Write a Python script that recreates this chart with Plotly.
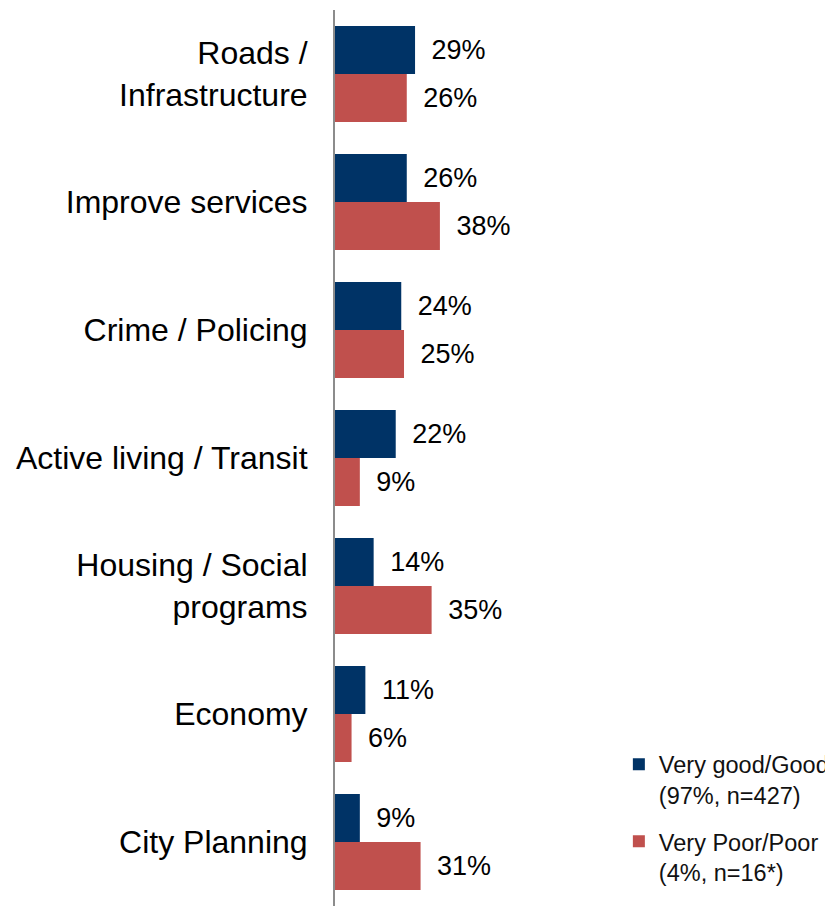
import plotly.graph_objects as go

categories = ["Roads /<br>Infrastructure", "Improve services", "Crime / Policing",
              "Active living / Transit", "Housing / Social<br>programs", "Economy", "City Planning"]
good_values = [29, 26, 24, 22, 14, 11, 9]
poor_values = [26, 38, 25, 9, 35, 6, 31]
good_name = "Very good/Good<br>(97%, n=427)"
poor_name = "Very Poor/Poor<br>(4%, n=16*)"

FONT = "Liberation Sans, Arial, sans-serif"

fig = go.Figure()
fig.add_trace(go.Bar(
    y=categories, x=good_values, orientation="h", name=good_name,
    marker=dict(color="#003366", line=dict(width=0)),
    text=[f"\u2002{v}%" for v in good_values], textposition="outside",
    constraintext="none", cliponaxis=False,
    textfont=dict(size=27, color="black", family=FONT),
    legendgroup="g1",
))
fig.add_trace(go.Bar(
    y=categories, x=poor_values, orientation="h", name=poor_name,
    marker=dict(color="#C0504D", line=dict(width=0)),
    text=[f"\u2002{v}%" for v in poor_values], textposition="outside",
    constraintext="none", cliponaxis=False,
    textfont=dict(size=27, color="black", family=FONT),
    legendgroup="g2",
))

fig.update_layout(
    width=833, height=906,
    margin=dict(l=327, r=0, t=2, b=8, autoexpand=False),
    barmode="group", bargap=0.25, bargroupgap=0,
    plot_bgcolor="white", paper_bgcolor="white",
    font=dict(family=FONT, color="black"),
    showlegend=True,
    legend=dict(
        x=0.561, y=0.1825, xanchor="left", yanchor="top", valign="top",
        font=dict(size=23.5, family=FONT, color="#111111"),
        tracegroupgap=13, bgcolor="rgba(0,0,0,0)",
    ),
    xaxis=dict(range=[0, 183.3], showgrid=False, zeroline=False,
               showticklabels=False, showline=False, fixedrange=True),
    yaxis=dict(autorange="reversed", showgrid=False, zeroline=False,
               showline=True, linecolor="#8c8c8c", linewidth=2,
               ticks="", ticklabelstandoff=19,
               tickfont=dict(size=32, family=FONT, color="black")),
)

fig.write_html("out.html")
